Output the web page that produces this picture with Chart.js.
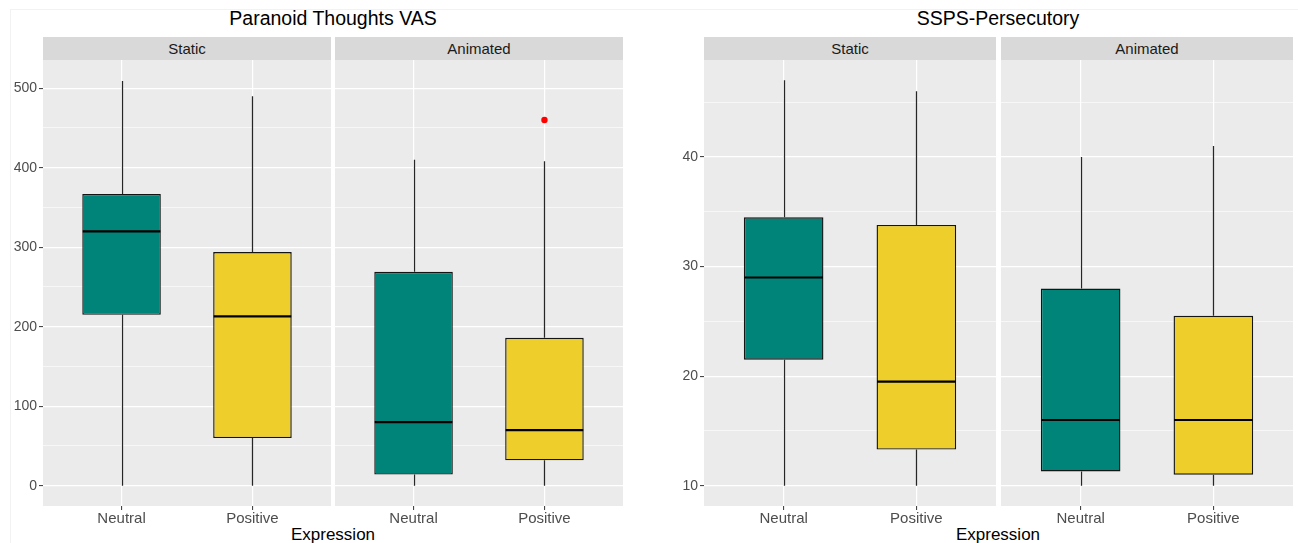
<!DOCTYPE html>
<html>
<head>
<meta charset="utf-8">
<script src="https://cdn.jsdelivr.net/npm/chart.js@4.4.1/dist/chart.umd.min.js"></script>
<style>
  body { margin: 0; width: 1298px; height: 543px; background: #fff; overflow: hidden; position: relative;
         font-family: "Liberation Sans", Arial, sans-serif; }
  .wrap { position: absolute; top: 0; height: 543px; }
  .frame { position: absolute; top: 9px; height: 534px; border-top: 1px solid #F2F2F2; }
  .title { position: absolute; top: 7px; font-size: 19.5px; color: #000; white-space: nowrap; transform: translateX(-50%); }
  .strip { position: absolute; top: 37px; height: 23px; line-height: 24px; background: #D9D9D9; color: #1A1A1A;
           font-size: 15px; text-align: center; }
  .xtitle { position: absolute; top: 525px; font-size: 17px; color: #000; white-space: nowrap; transform: translateX(-50%); }
</style>
</head>
<body>
<div class="frame" style="left:10px; width:640px; border-left: 1px solid #F2F2F2;"></div>
<div class="frame" style="left:651px; width:647px;"></div>
<div class="title" style="left:333px;">Paranoid Thoughts VAS</div>
<div class="title" style="left:998px;">SSPS-Persecutory</div>
<div class="xtitle" style="left:333px;">Expression</div>
<div class="xtitle" style="left:998px;">Expression</div>
<script>
// categories
const expressions = ['Neutral', 'Positive'];
const conditions = ['Static', 'Animated'];
const fillColors = ['#00847A', '#EECE2A'];

// Paranoid Thoughts VAS
const vasTicks = [0, 100, 200, 300, 400, 500];
const vasMinorTicks = [50, 150, 250, 350, 450];
const vasStaticMin = [0, 0];
const vasStaticQ1 = [215, 60];
const vasStaticMedian = [320, 213];
const vasStaticQ3 = [367, 294];
const vasStaticMax = [509, 490];
const vasStaticOutliers = [[], []];
const vasAnimatedMin = [0, 0];
const vasAnimatedQ1 = [14, 32];
const vasAnimatedMedian = [80, 70];
const vasAnimatedQ3 = [269, 186];
const vasAnimatedMax = [410, 408];
const vasAnimatedOutliers = [[], [460]];

// SSPS-Persecutory
const sspsTicks = [10, 20, 30, 40];
const sspsMinorTicks = [15, 25, 35, 45];
const sspsStaticMin = [10, 10];
const sspsStaticQ1 = [21.5, 13.3];
const sspsStaticMedian = [29, 19.5];
const sspsStaticQ3 = [34.5, 33.8];
const sspsStaticMax = [47, 46];
const sspsStaticOutliers = [[], []];
const sspsAnimatedMin = [10, 10];
const sspsAnimatedQ1 = [11.3, 11];
const sspsAnimatedMedian = [16, 16];
const sspsAnimatedQ3 = [28, 25.5];
const sspsAnimatedMax = [40, 41];
const sspsAnimatedOutliers = [[], []];

const vasRange = [-25.5, 535.5];
const sspsRange = [8.15, 48.85];

// extra canvas room on the sides so point overflow padding does not shrink the panel
const SIDE = 6;

// grey panel, whiskers and median lines
const boxPlugin = {
  id: 'boxplot',
  beforeDraw(chart) {
    const { ctx, chartArea: a } = chart;
    ctx.save();
    ctx.fillStyle = '#EBEBEB';
    ctx.fillRect(a.left, a.top, a.right - a.left, a.bottom - a.top);
    ctx.restore();
  },
  beforeDatasetsDraw(chart) {
    const { ctx } = chart;
    const ds = chart.data.datasets[0];
    const xs = chart.scales.x, ys = chart.scales.y;
    ctx.save();
    ctx.strokeStyle = '#262626';
    ctx.lineWidth = 1.25;
    ds.data.forEach((d, i) => {
      const x = Math.round(xs.getPixelForValue(d.x)) + 0.5;
      ctx.beginPath();
      ctx.moveTo(x, ys.getPixelForValue(ds.whiskerMax[i]));
      ctx.lineTo(x, ys.getPixelForValue(d.y[1]));
      ctx.moveTo(x, ys.getPixelForValue(d.y[0]));
      ctx.lineTo(x, ys.getPixelForValue(ds.whiskerMin[i]));
      ctx.stroke();
    });
    ctx.restore();
  },
  afterDatasetsDraw(chart) {
    const { ctx } = chart;
    const ds = chart.data.datasets[0];
    const ys = chart.scales.y;
    const meta = chart.getDatasetMeta(0);
    ctx.save();
    ctx.strokeStyle = '#000000';
    ctx.lineWidth = 2.2;
    meta.data.forEach((el, i) => {
      const y = ys.getPixelForValue(ds.median[i]);
      ctx.beginPath();
      ctx.moveTo(el.x - el.width / 2 + 0.5, y);
      ctx.lineTo(el.x + el.width / 2 - 0.5, y);
      ctx.stroke();
    });
    ctx.restore();
  }
};

function makeFacet(f) {
  const padLeft = f.axisWidth > 0 ? 0 : SIDE;
  const wrap = document.createElement('div');
  wrap.className = 'wrap';
  wrap.style.left = (f.left - padLeft) + 'px';
  wrap.style.width = (f.width + padLeft + SIDE) + 'px';
  const cv = document.createElement('canvas');
  wrap.appendChild(cv);
  document.body.appendChild(wrap);

  const strip = document.createElement('div');
  strip.className = 'strip';
  strip.style.left = (f.left + f.axisWidth) + 'px';
  strip.style.width = (f.width - f.axisWidth) + 'px';
  strip.textContent = f.label;
  document.body.appendChild(strip);

  const allTicks = f.ticks.concat(f.minor).sort((a, b) => a - b);
  const isMajor = v => f.ticks.includes(v);
  const outlierPts = [];
  f.outliers.forEach((list, i) => list.forEach(v => outlierPts.push({ x: i + 1, y: v })));
  const fam = '"Liberation Sans", Arial, sans-serif';

  new Chart(cv, {
    type: 'bar',
    data: {
      datasets: [{
        data: expressions.map((e, i) => ({ x: i + 1, y: [f.q1[i], f.q3[i]] })),
        whiskerMin: f.min,
        whiskerMax: f.max,
        median: f.median,
        backgroundColor: fillColors,
        borderColor: '#141414',
        borderWidth: 1.4,
        borderSkipped: false,
        barPercentage: 0.6,
        categoryPercentage: 1
      }, {
        type: 'scatter',
        data: outlierPts,
        pointRadius: 3.2,
        backgroundColor: '#FF0000',
        borderWidth: 0
      }]
    },
    options: {
      responsive: true,
      maintainAspectRatio: false,
      animation: false,
      events: [],
      layout: { padding: { top: 60, left: padLeft, right: SIDE } },
      plugins: { legend: { display: false }, tooltip: { enabled: false } },
      scales: {
        x: {
          type: 'linear', min: 0.4, max: 2.6, offset: false,
          afterBuildTicks: s => { s.ticks = expressions.map((e, i) => ({ value: i + 1 })); },
          afterFit: s => { s.height = 37; },
          ticks: { callback: v => expressions[v - 1], color: '#4D4D4D', font: { family: fam, size: 15 },
                   padding: 0, maxRotation: 0, autoSkip: false },
          grid: { color: '#FFFFFF', lineWidth: 1.2, offset: false, tickLength: 4,
                  tickColor: '#333333', tickWidth: 1 },
          border: { display: false }
        },
        y: {
          type: 'linear', min: f.range[0], max: f.range[1],
          afterBuildTicks: s => { s.ticks = allTicks.map(v => ({ value: v })); },
          afterFit: s => { s.width = f.axisWidth; },
          ticks: { display: f.showY, callback: v => isMajor(v) ? String(v) : '', color: '#4D4D4D',
                   font: { family: fam, size: 14 }, padding: 2 },
          grid: {
            color: '#FFFFFF',
            lineWidth: c => (c.tick && isMajor(c.tick.value)) ? 1.2 : 0.6,
            drawTicks: f.showY, tickLength: 4, tickWidth: 1,
            tickColor: c => (c.tick && isMajor(c.tick.value)) ? '#333333' : 'rgba(0,0,0,0)'
          },
          border: { display: false }
        }
      }
    },
    plugins: [boxPlugin]
  });
}

makeFacet({ left: 0, width: 331, axisWidth: 43, showY: true, label: conditions[0], range: vasRange,
  ticks: vasTicks, minor: vasMinorTicks, min: vasStaticMin, q1: vasStaticQ1, median: vasStaticMedian,
  q3: vasStaticQ3, max: vasStaticMax, outliers: vasStaticOutliers });
makeFacet({ left: 335, width: 288, axisWidth: 0, showY: false, label: conditions[1], range: vasRange,
  ticks: vasTicks, minor: vasMinorTicks, min: vasAnimatedMin, q1: vasAnimatedQ1, median: vasAnimatedMedian,
  q3: vasAnimatedQ3, max: vasAnimatedMax, outliers: vasAnimatedOutliers });
makeFacet({ left: 650, width: 346, axisWidth: 54, showY: true, label: conditions[0], range: sspsRange,
  ticks: sspsTicks, minor: sspsMinorTicks, min: sspsStaticMin, q1: sspsStaticQ1, median: sspsStaticMedian,
  q3: sspsStaticQ3, max: sspsStaticMax, outliers: sspsStaticOutliers });
makeFacet({ left: 1001, width: 292, axisWidth: 0, showY: false, label: conditions[1], range: sspsRange,
  ticks: sspsTicks, minor: sspsMinorTicks, min: sspsAnimatedMin, q1: sspsAnimatedQ1, median: sspsAnimatedMedian,
  q3: sspsAnimatedQ3, max: sspsAnimatedMax, outliers: sspsAnimatedOutliers });
</script>
</body>
</html>
